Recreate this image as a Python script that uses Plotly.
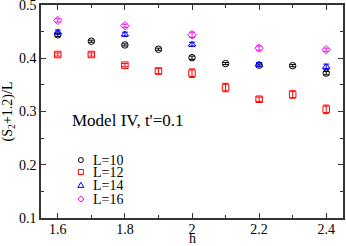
import plotly.graph_objects as go

h_odd = [1.6, 1.7, 1.8, 1.9, 2.0, 2.1, 2.2, 2.3, 2.4]
h_even = [1.6, 1.8, 2.0, 2.2, 2.4]

L10 = [0.444, 0.432, 0.425, 0.417, 0.401, 0.390, 0.387, 0.386, 0.372]
L10_err = [0.003, 0.002, 0.002, 0.002, 0.003, 0.002, 0.002, 0.002, 0.003]
L12 = [0.407, 0.407, 0.387, 0.376, 0.372, 0.345, 0.323, 0.332, 0.304]
L12_err = [0.003, 0.003, 0.003, 0.005, 0.008, 0.008, 0.004, 0.007, 0.008]
L14 = [0.449, 0.445, 0.426, 0.388, 0.384]
L14_err = [0.004, 0.004, 0.004, 0.004, 0.005]
L16 = [0.471, 0.461, 0.444, 0.419, 0.416]
L16_err = [0.003, 0.003, 0.005, 0.004, 0.003]

series = [
    ("L=10", h_odd, L10, L10_err, "black", "circle-open"),
    ("L=12", h_odd, L12, L12_err, "red", "square-open"),
    ("L=14", h_even, L14, L14_err, "blue", "triangle-up-open"),
    ("L=16", h_even, L16, L16_err, "magenta", "diamond-open"),
]

FONT = "Liberation Serif"
fig = go.Figure()
for name, x, y, e, c, sym in series:
    fig.add_trace(go.Scatter(
        x=x, y=y, name=name, mode="markers", showlegend=False,
        marker=dict(symbol=sym, size=6.5, color=c, line=dict(width=1, color=c)),
        error_y=dict(type="data", array=e, color=c, thickness=1, width=3),
    ))

axis_common = dict(
    showline=True, linecolor="#333", linewidth=1.5, mirror="allticks",
    ticks="inside", ticklen=5, tickcolor="#333", showgrid=False, zeroline=False,
    tickfont=dict(family=FONT, size=14, color="black"),
    ticklabeloverflow="allow", automargin=False,
    minor=dict(ticks="inside", ticklen=3, tickcolor="#333"),
)
fig.update_xaxes(range=[1.55, 2.45], tickvals=[1.6, 1.8, 2.0, 2.2, 2.4],
                 ticktext=["1.6", "1.8", "2", "2.2", "2.4"],
                 minor_dtick=0.1, minor_tick0=1.5, ticklabelstandoff=-3,
                 **axis_common)
fig.update_yaxes(range=[0.1, 0.5], tickvals=[0.1, 0.2, 0.3, 0.4, 0.5],
                 ticktext=["0.1", "0.2", "0.3", "0.4", "0.5"],
                 minor_dtick=0.05, minor_tick0=0.1,
                 title=dict(text="(S<sub>2</sub>+1.2)/L", font=dict(family=FONT, size=14, color="black"), standoff=4),
                 **axis_common)

# x-axis title placed explicitly below the tick labels
fig.add_annotation(text="h", xref="paper", yref="paper", x=0.5, y=-0.096,
                   xanchor="center", yanchor="middle", showarrow=False,
                   borderpad=0,
                   font=dict(family=FONT, size=14, color="black"))

fig.add_annotation(text="Model IV, t'=0.1", xref="paper", yref="paper",
                   x=0.096, y=0.46, xanchor="left", yanchor="middle", showarrow=False,
                   font=dict(family=FONT, size=17, color="black"))

# manual legend (compact rows like the reference)
legend_rows = [0.272, 0.216, 0.154, 0.089]
r = 2.5
def sym_path(sym):
    if sym == "triangle-up-open":
        return "M-3,-2.2 L3,-2.2 L0,3 Z"
    if sym == "diamond-open":
        return "M0,-3 L3,0 L0,3 L-3,0 Z"
    return None
for (name, x, y, e, c, sym), yy in zip(series, legend_rows):
    common = dict(xref="paper", yref="paper", xsizemode="pixel", ysizemode="pixel",
                  xanchor=0.132, yanchor=yy, line=dict(color=c, width=1),
                  fillcolor="rgba(0,0,0,0)")
    if sym == "circle-open":
        fig.add_shape(type="circle", x0=-r, x1=r, y0=-r, y1=r, **common)
    elif sym == "square-open":
        fig.add_shape(type="rect", x0=-r, x1=r, y0=-r, y1=r, **common)
    else:
        fig.add_shape(type="path", path=sym_path(sym), **common)
    fig.add_annotation(text=name, xref="paper", yref="paper", x=0.170, y=yy,
                       xanchor="left", yanchor="middle", showarrow=False,
                       height=12, borderpad=0, valign="middle",
                       font=dict(family=FONT, size=14, color="black"))

fig.update_layout(
    width=346, height=246,
    margin=dict(l=41, r=3, t=5, b=28),
    plot_bgcolor="white", paper_bgcolor="white",
    showlegend=False,
)
fig.write_html("out.html", config={"displayModeBar": False},
               post_script="document.body.style.margin='0';")
